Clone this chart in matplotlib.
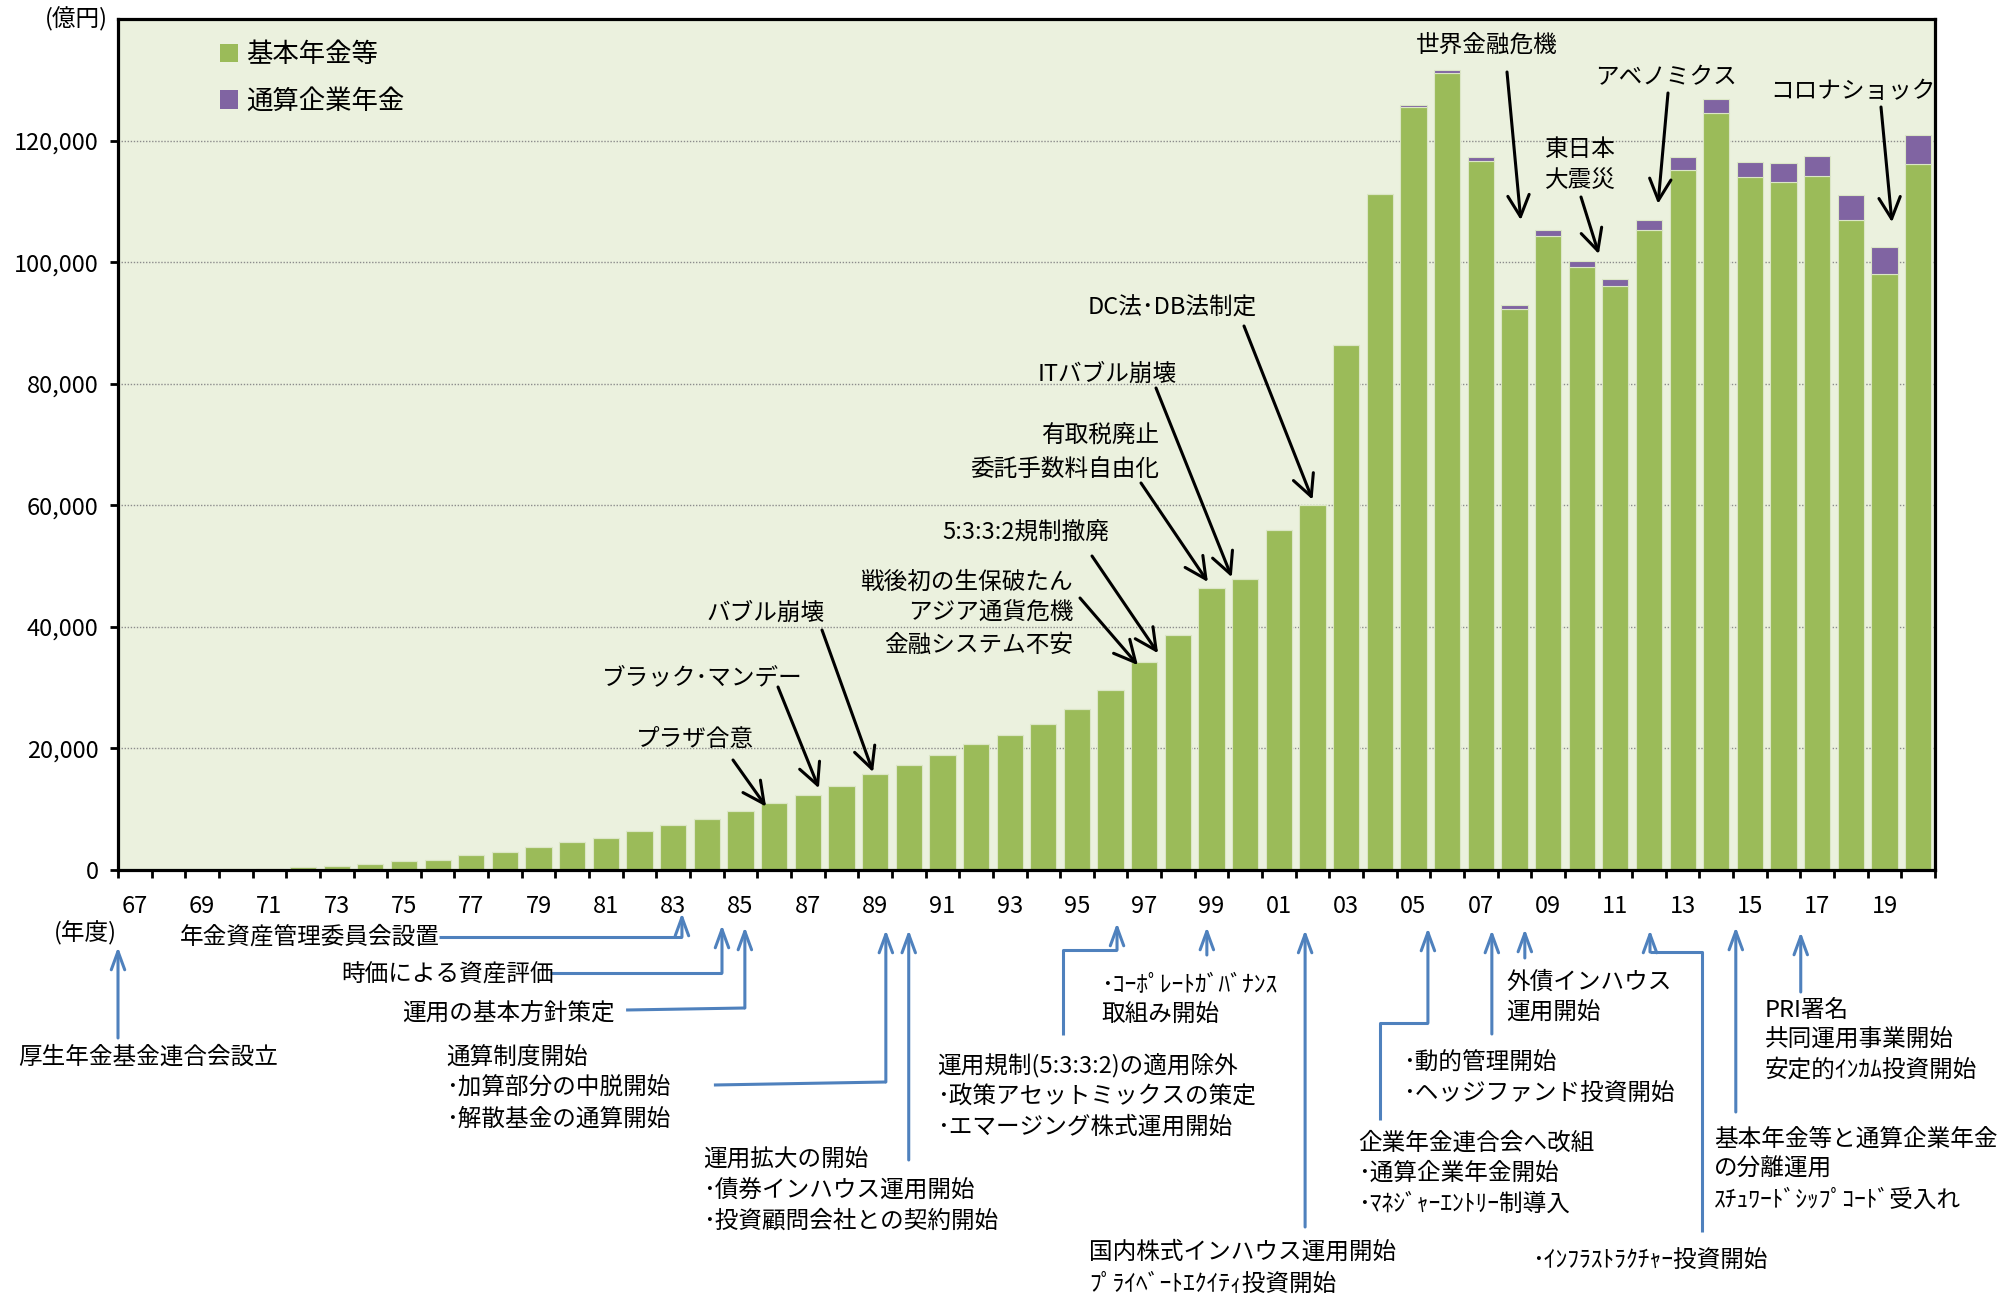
import matplotlib
matplotlib.use("Agg")
import numpy as np
import matplotlib.pyplot as plt
from matplotlib.patches import Patch
from matplotlib.transforms import blended_transform_factory

plt.rcParams['font.family'] = ['Noto Sans CJK JP', 'DejaVu Sans']

W, H = 2013, 1295

# 年度（1967〜2020）
years = ["67", "68", "69", "70", "71", "72", "73", "74", "75", "76",
         "77", "78", "79", "80", "81", "82", "83", "84", "85", "86",
         "87", "88", "89", "90", "91", "92", "93", "94", "95", "96",
         "97", "98", "99", "00", "01", "02", "03", "04", "05", "06",
         "07", "08", "09", "10", "11", "12", "13", "14", "15", "16",
         "17", "18", "19", "20"]

# 基本年金等（億円）
basic = [0, 20, 50, 100, 200, 440, 660, 930, 1430, 1700,
         2470, 2960, 3790, 4560, 5330, 6420, 7410, 8400, 9720, 11030,
         12350, 13890, 15760, 17350, 18890, 20700, 22290, 24100, 26460, 29650,
         34260, 38700, 46340, 47870, 55940, 60120, 86370, 111260, 125460, 131080,
         116720, 92370, 104380, 99200, 96090, 105370, 115200, 124590, 113940, 113120,
         114210, 106900, 98110, 116070]

# 通算企業年金（億円）
tsusan = [0, 0, 0, 0, 0, 0, 0, 0, 0, 0,
          0, 0, 0, 0, 0, 0, 0, 0, 0, 0,
          0, 0, 0, 0, 0, 0, 0, 0, 0, 0,
          0, 0, 0, 0, 0, 0, 0, 0, 380, 500,
          550, 550, 990, 930, 1200, 1530, 2070, 2290, 2510, 3170,
          3330, 4090, 4360, 4860]

series_names = ["基本年金等", "通算企業年金"]
y_ticks = [0, 20000, 40000, 60000, 80000, 100000, 120000]

GREEN = "#9BBB59"
PURPLE = "#8064A2"
BLUE = "#4F81BD"
BG = "#EBF1DE"
EDGE = "#dbe6c6"

basic_a = np.array(basic)
tsusan_a = np.array(tsusan)
total = basic_a + tsusan_a
x = np.arange(len(years))

fig = plt.figure(figsize=(W / 100, H / 100), dpi=100)
ax = fig.add_axes([118 / W, 1 - 870 / H, (1935 - 118) / W, (870 - 19) / H])
ax.set_facecolor(BG)

ax.bar(x, basic_a, width=0.78, color=GREEN, edgecolor=EDGE, linewidth=0.8, zorder=2)
ax.bar(x, tsusan_a, bottom=basic_a, width=0.78, color=PURPLE, edgecolor=EDGE,
       linewidth=0.8, zorder=2)

ax.set_xlim(-0.5, len(years) - 0.5)
ax.set_ylim(0, 140000)
ax.set_axisbelow(True)
ax.yaxis.grid(True, linestyle=(0, (1, 1.2)), color="#8c8c8c", linewidth=1.0)

for sp in ax.spines.values():
    sp.set_linewidth(2.3)
    sp.set_color("black")

ax.set_yticks(y_ticks)
ax.set_yticklabels([f"{v:,}" for v in y_ticks], fontsize=17)
ax.tick_params(axis="y", direction="out", length=6, width=2, pad=8)

# 目盛線は年度の境界、ラベルは隔年
ax.set_xticks(np.arange(-0.5, len(years) + 0.5, 1.0))
ax.set_xticklabels([])
ax.tick_params(axis="x", which="major", direction="out", length=6, width=2)
ax.set_xticks(x[::2], minor=True)
ax.set_xticklabels(years[::2], minor=True, fontsize=17)
ax.tick_params(axis="x", which="minor", length=0, pad=18)


def fp(xp, yp):
    return (xp / W, 1 - yp / H)


def put_lines(lines, xp, yp, step=31, ha="left", size=17):
    for k, s in enumerate(lines):
        fig.text(xp / W, 1 - (yp + k * step) / H, s, ha=ha, va="center",
                 fontsize=size, color="black")


fig.text(*fp(76, 19), "(億円)", ha="center", va="center", fontsize=17)
fig.text(*fp(85, 933), "(年度)", ha="center", va="center", fontsize=17)

# 凡例
handles = [Patch(facecolor=GREEN, edgecolor="none"),
           Patch(facecolor=PURPLE, edgecolor="none")]
ax.legend(handles, series_names, loc="upper left", bbox_to_anchor=(0.056, 0.974),
          frameon=False, fontsize=19, handlelength=0.7, handleheight=0.7,
          handletextpad=0.3, labelspacing=0.75, borderpad=0, borderaxespad=0)

# 出来事（グラフ内、黒矢印）
black_arrow = dict(arrowstyle="->,head_length=0.7,head_width=0.35", lw=2.2,
                   color="black", shrinkA=0, shrinkB=0, mutation_scale=22)

market_events = [
    # (lines, ha, text x, first line y, line step, year, dx, dy, tail)
    (["プラザ合意"], "center", 695, 740, 0, "86", -0.24, -600, (733, 760)),
    (["ブラック･マンデー"], "center", 702, 678, 0, "87", 0.33, 1100, (778, 687)),
    (["バブル崩壊"], "center", 766, 613, 0, "89", -0.06, 350, (822, 630)),
    (["戦後初の生保破たん", "アジア通貨危機", "金融システム不安"], "right", 1073, 582, 31.5,
     "97", -0.19, -550, (1080, 598)),
    (["5:3:3:2規制撤廃"], "center", 1026, 533, 0, "97", 0.41, 1400, (1092, 556)),
    (["有取税廃止", "委託手数料自由化"], "right", 1159, 436, 34, "99", -0.11, 1040,
     (1141, 483)),
    (["ITバブル崩壊"], "center", 1107, 374, 0, "00", -0.4, 300, (1156, 388)),
    (["DC法･DB法制定"], "center", 1172, 308, 0, "02", 0.0, 800, (1244, 326)),
    (["世界金融危機"], "center", 1487, 45, 0, "08", 0.19, 14000, (1507, 72)),
    (["東日本", "大震災"], "center", 1580, 149, 32, "10", 0.51, 1200, (1581, 197)),
    (["アベノミクス"], "center", 1666, 78, 0, "12", 0.27, 2700, (1668, 93)),
    (["コロナショック"], "center", 1853, 92, 0, "19", 0.22, 4100, (1881, 107)),
]

for lines, ha, tx, ty, step, yr, dx, dy, tail in market_events:
    put_lines(lines, tx, ty, step, ha=ha)
    i = years.index(yr)
    ax.annotate("", xy=(i + dx, total[i] + dy), xycoords="data",
                xytext=fp(*tail), textcoords="figure fraction",
                arrowprops=black_arrow, annotation_clip=False)

# 連合会の沿革（軸の下、青矢印）
blend = blended_transform_factory(ax.transData, fig.transFigure)
blue_arrow = dict(arrowstyle="->,head_length=0.6,head_width=0.22", lw=2.2,
                  color=BLUE, shrinkA=0, shrinkB=0, mutation_scale=22)

history = [
    # (lines, text x, first line y, step, year, dx, tip y, path points before tip)
    (["年金資産管理委員会設置"], 180, 937, 0, "83", 0.26, 913,
     [(9.04, 937), ("tip", 937)]),
    (["時価による資産評価"], 341, 975, 0, "84", 0.45, 925,
     [(12.34, 973), ("tip", 973)]),
    (["運用の基本方針策定"], 402, 1013, 0, "85", 0.13, 927,
     [(14.6, 1010), ("tip", 1008)]),
    (["厚生年金基金連合会設立"], 18, 1057, 0, "67", -0.5, 947,
     [("tip", 1038)]),
    (["通算制度開始", "･加算部分の中脱開始", "･解散基金の通算開始"], 446, 1058, 30.5,
     "89", 0.32, 930, [(17.21, 1085), ("tip", 1082)]),
    (["運用拡大の開始", "･債券インハウス運用開始", "･投資顧問会社との契約開始"], 703, 1160, 30.5,
     "90", 0.0, 930, [("tip", 1160)]),
    (["運用規制(5:3:3:2)の適用除外", "･政策アセットミックスの策定", "･エマージング株式運用開始"],
     937, 1066, 30.5, "96", 0.19, 923,
     [(27.58, 1035), (27.58, 950), ("tip", 950)]),
    (["･ｺｰﾎﾟﾚｰﾄｶﾞﾊﾞﾅﾝｽ", "取組み開始"], 1101, 985, 30, "99", -0.14, 927,
     [("tip", 955)]),
    (["国内株式インハウス運用開始", "ﾌﾟﾗｲﾍﾞｰﾄｴｸｲﾃｨ投資開始"], 1089, 1252, 32,
     "02", -0.22, 930, [("tip", 1227)]),
    (["企業年金連合会へ改組", "･通算企業年金開始", "･ﾏﾈｼﾞｬｰｴﾝﾄﾘｰ制導入"], 1358, 1143, 30.5,
     "05", 0.43, 928, [(37.0, 1120), (37.0, 1023), ("tip", 1023)]),
    (["･動的管理開始", "･ヘッジファンド投資開始"], 1403, 1063, 31, "07", 0.33, 930,
     [("tip", 1034)]),
    (["外債インハウス", "運用開始"], 1506, 982, 31, "08", 0.31, 929,
     [("tip", 958)]),
    (["･ｲﾝﾌﾗｽﾄﾗｸﾁｬｰ投資開始"], 1532, 1261, 0, "12", 0.03, 930,
     [(46.57, 1232), (46.57, 952), ("tip", 952)]),
    (["基本年金等と通算企業年金", "の分離運用", "ｽﾁｭﾜｰﾄﾞｼｯﾌﾟｺｰﾄﾞ受入れ"], 1714, 1139, 30.5,
     "15", -0.42, 927, [("tip", 1112)]),
    (["PRI署名", "共同運用事業開始", "安定的ｲﾝｶﾑ投資開始"], 1765, 1010, 30, "17", -0.49, 932,
     [("tip", 992)]),
]

for lines, tx, ty, step, yr, dx, tip_y, path in history:
    put_lines(lines, tx, ty, step)
    xt = years.index(yr) + dx
    pts = [(xt if px == "tip" else px, 1 - py / H) for px, py in path]
    if len(pts) > 1:
        ax.plot([p[0] for p in pts], [p[1] for p in pts], color=BLUE, lw=2.2,
                transform=blend, clip_on=False, solid_capstyle="butt")
    ax.annotate("", xy=(xt, 1 - tip_y / H), xycoords=blend,
                xytext=pts[-1], textcoords=blend,
                arrowprops=blue_arrow, annotation_clip=False)

fig.savefig("out.png", dpi=100, facecolor="white")
